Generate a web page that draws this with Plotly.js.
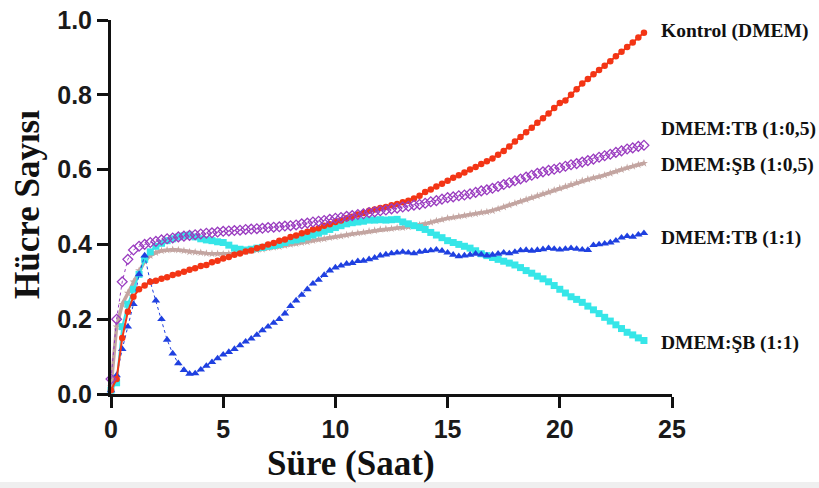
<!DOCTYPE html>
<html>
<head>
<meta charset="utf-8">
<script src="https://cdn.plot.ly/plotly-3.0.1.min.js"></script>
<style>
  html, body { margin: 0; padding: 0; background: #ffffff; }
  #chart { width: 819px; height: 488px; }
</style>
</head>
<body>
<div id="chart"></div>
<script>
// Time (hours)
const time = [
  0, 0.25, 0.5, 0.75, 1, 1.25, 1.5, 1.75, 2, 2.25, 2.5, 2.75,
  3, 3.25, 3.5, 3.75, 4, 4.25, 4.5, 4.75, 5, 5.25, 5.5, 5.75,
  6, 6.25, 6.5, 6.75, 7, 7.25, 7.5, 7.75, 8, 8.25, 8.5, 8.75,
  9, 9.25, 9.5, 9.75, 10, 10.25, 10.5, 10.75, 11, 11.25, 11.5, 11.75,
  12, 12.25, 12.5, 12.75, 13, 13.25, 13.5, 13.75, 14, 14.25, 14.5, 14.75,
  15, 15.25, 15.5, 15.75, 16, 16.25, 16.5, 16.75, 17, 17.25, 17.5, 17.75,
  18, 18.25, 18.5, 18.75, 19, 19.25, 19.5, 19.75, 20, 20.25, 20.5, 20.75,
  21, 21.25, 21.5, 21.75, 22, 22.25, 22.5, 22.75, 23, 23.25, 23.5, 23.75
];

// Kontrol (DMEM)
const kontrol = [
  0.01, 0.04, 0.15, 0.22, 0.26, 0.28, 0.29, 0.30, 0.303, 0.308, 0.312, 0.318,
  0.322, 0.327, 0.332, 0.336, 0.342, 0.345, 0.352, 0.356, 0.362, 0.366, 0.372, 0.376,
  0.381, 0.384, 0.39, 0.394, 0.40, 0.404, 0.41, 0.413, 0.42, 0.424, 0.43, 0.434,
  0.44, 0.443, 0.45, 0.454, 0.46, 0.464, 0.47, 0.474, 0.48, 0.484, 0.49, 0.493,
  0.497, 0.50, 0.505, 0.508, 0.513, 0.517, 0.523, 0.53, 0.54, 0.547, 0.555, 0.562,
  0.57, 0.578, 0.585, 0.592, 0.60, 0.607, 0.615, 0.622, 0.63, 0.64, 0.65, 0.662,
  0.675, 0.687, 0.70, 0.712, 0.725, 0.737, 0.75, 0.765, 0.778, 0.785, 0.80, 0.815,
  0.83, 0.842, 0.855, 0.866, 0.878, 0.89, 0.903, 0.915, 0.928, 0.94, 0.953, 0.966
];

// DMEM:TB (1:0,5)
const tb05 = [
  0.04, 0.20, 0.30, 0.36, 0.385, 0.395, 0.40, 0.405, 0.408, 0.412, 0.415, 0.417,
  0.42, 0.422, 0.424, 0.426, 0.428, 0.43, 0.431, 0.433, 0.435, 0.436, 0.437, 0.438,
  0.44, 0.441, 0.442, 0.443, 0.445, 0.446, 0.447, 0.449, 0.45, 0.452, 0.455, 0.457,
  0.46, 0.462, 0.464, 0.467, 0.47, 0.472, 0.475, 0.477, 0.48, 0.482, 0.485, 0.487,
  0.49, 0.492, 0.495, 0.497, 0.50, 0.502, 0.505, 0.507, 0.51, 0.514, 0.517, 0.521,
  0.525, 0.527, 0.53, 0.532, 0.535, 0.539, 0.543, 0.546, 0.55, 0.555, 0.56, 0.565,
  0.57, 0.575, 0.58, 0.585, 0.59, 0.594, 0.598, 0.601, 0.605, 0.609, 0.613, 0.616,
  0.62, 0.624, 0.628, 0.633, 0.637, 0.641, 0.646, 0.65, 0.655, 0.658, 0.662, 0.665
];

// DMEM:ŞB (1:0,5)
const sb05 = [
  0.02, 0.18, 0.24, 0.27, 0.30, 0.33, 0.355, 0.37, 0.378, 0.383, 0.385, 0.386,
  0.385, 0.383, 0.38, 0.379, 0.378, 0.376, 0.375, 0.375, 0.374, 0.375, 0.376, 0.378,
  0.38, 0.383, 0.385, 0.387, 0.39, 0.392, 0.394, 0.397, 0.40, 0.402, 0.405, 0.407,
  0.41, 0.413, 0.415, 0.418, 0.42, 0.422, 0.425, 0.428, 0.43, 0.432, 0.435, 0.437,
  0.44, 0.441, 0.442, 0.444, 0.445, 0.447, 0.45, 0.452, 0.455, 0.459, 0.463, 0.466,
  0.47, 0.472, 0.475, 0.477, 0.48, 0.482, 0.485, 0.487, 0.49, 0.495, 0.50, 0.505,
  0.51, 0.515, 0.52, 0.525, 0.53, 0.535, 0.54, 0.545, 0.55, 0.555, 0.56, 0.565,
  0.57, 0.574, 0.578, 0.581, 0.585, 0.59, 0.595, 0.60, 0.605, 0.609, 0.613, 0.617
];

// DMEM:TB (1:1)
const tb11 = [
  0.01, 0.05, 0.12, 0.18, 0.24, 0.32, 0.37, 0.30, 0.25, 0.20, 0.145, 0.108,
  0.082, 0.064, 0.054, 0.055, 0.065, 0.075, 0.085, 0.095, 0.105, 0.112, 0.12, 0.13,
  0.14, 0.148, 0.158, 0.17, 0.18, 0.19, 0.20, 0.215, 0.235, 0.25, 0.265, 0.28,
  0.295, 0.305, 0.318, 0.33, 0.338, 0.343, 0.348, 0.35, 0.355, 0.356, 0.36, 0.364,
  0.37, 0.373, 0.376, 0.378, 0.38, 0.378, 0.376, 0.38, 0.382, 0.384, 0.386, 0.383,
  0.378, 0.372, 0.368, 0.37, 0.372, 0.375, 0.373, 0.37, 0.372, 0.375, 0.378, 0.376,
  0.38, 0.384, 0.385, 0.383, 0.385, 0.387, 0.39, 0.388, 0.386, 0.388, 0.39, 0.388,
  0.386, 0.385, 0.398, 0.40, 0.402, 0.405, 0.41, 0.418, 0.422, 0.42, 0.426, 0.43
];

// DMEM:ŞB (1:1)
const sb11 = [
  0.01, 0.03, 0.18, 0.24, 0.28, 0.32, 0.36, 0.38, 0.395, 0.403, 0.41, 0.415,
  0.42, 0.423, 0.425, 0.42, 0.415, 0.412, 0.41, 0.407, 0.405, 0.398, 0.39, 0.387,
  0.385, 0.387, 0.39, 0.392, 0.395, 0.397, 0.40, 0.405, 0.41, 0.412, 0.415, 0.42,
  0.425, 0.43, 0.435, 0.44, 0.445, 0.45, 0.455, 0.458, 0.46, 0.462, 0.465, 0.465,
  0.466, 0.465, 0.466, 0.467, 0.46, 0.455, 0.45, 0.445, 0.44, 0.432, 0.425, 0.418,
  0.41, 0.405, 0.40, 0.395, 0.39, 0.383, 0.375, 0.37, 0.365, 0.36, 0.355, 0.35,
  0.345, 0.338, 0.33, 0.323, 0.315, 0.308, 0.30, 0.29, 0.28, 0.27, 0.26, 0.253,
  0.245, 0.235, 0.225, 0.215, 0.205, 0.195, 0.185, 0.175, 0.165, 0.158, 0.15, 0.143
];

const seriesNames = ["Kontrol (DMEM)", "DMEM:TB (1:0,5)", "DMEM:ŞB (1:0,5)", "DMEM:TB (1:1)", "DMEM:ŞB (1:1)"];
const xTicks = [0, 5, 10, 15, 20, 25];
const yTicks = [0.0, 0.2, 0.4, 0.6, 0.8, 1.0];

const traces = [
  {
    x: time, y: sb05, name: seriesNames[2], type: 'scatter', mode: 'lines+markers',
    line: { color: '#c3a5a1', width: 3.5 },
    marker: { symbol: 'star', size: 6, color: '#c3a5a1' },
    cliponaxis: false
  },
  {
    x: time, y: sb11, name: seriesNames[4], type: 'scatter', mode: 'lines+markers',
    line: { color: '#36e6e8', width: 2 },
    marker: { symbol: 'square', size: 7, color: '#36e6e8' },
    cliponaxis: false
  },
  {
    x: time, y: tb11, name: seriesNames[3], type: 'scatter', mode: 'lines+markers',
    line: { color: '#1f40e0', width: 1, dash: 'dot' },
    marker: { symbol: 'triangle-up', size: 7.5, color: '#1f40e0' },
    cliponaxis: false
  },
  {
    x: time, y: kontrol, name: seriesNames[0], type: 'scatter', mode: 'lines+markers',
    line: { color: '#f33515', width: 2 },
    marker: { symbol: 'circle', size: 6.5, color: '#f33515' },
    cliponaxis: false
  },
  {
    x: time, y: tb05, name: seriesNames[1], type: 'scatter', mode: 'lines+markers',
    line: { color: '#9a3cc0', width: 1, dash: 'dot' },
    marker: { symbol: 'diamond-open', size: 7.5, color: '#9a3cc0', line: { width: 1.3 } },
    cliponaxis: false
  }
];

const plotL = 111, plotR = 672, plotT = 20, plotB = 394;
function py(pix) { return (plotB - pix) / (plotB - plotT); }
function px(pix) { return (pix - plotL) / (plotR - plotL); }

const labelFont = { family: 'Liberation Serif, Times New Roman, serif', size: 19.5, color: '#111111', weight: 'bold' };
const labelY = [31, 129, 165, 238, 343];

const annotations = seriesNames.map((n, i) => ({
  text: n, xref: 'paper', yref: 'paper', x: px(659), y: py(labelY[i]),
  xanchor: 'left', yanchor: 'middle', showarrow: false, font: labelFont
}));

annotations.push({
  text: 'Süre (Saat)', xref: 'paper', yref: 'paper', x: px(351), y: py(463),
  xanchor: 'center', yanchor: 'middle', showarrow: false,
  font: { family: 'Liberation Serif, Times New Roman, serif', size: 35, color: '#111111', weight: 'bold' }
});
annotations.push({
  text: 'Hücre Sayısı', xref: 'paper', yref: 'paper', x: px(27), y: py(205),
  xanchor: 'center', yanchor: 'middle', showarrow: false, textangle: -90,
  font: { family: 'Liberation Serif, Times New Roman, serif', size: 35, color: '#111111', weight: 'bold' }
});

const tickFont = { family: 'Liberation Sans, Arial, sans-serif', size: 25, color: '#1a1a1a', weight: 'bold' };

const layout = {
  width: 819, height: 488,
  margin: { l: plotL, r: 819 - plotR, t: plotT, b: 488 - plotB, pad: 0 },
  paper_bgcolor: '#ffffff', plot_bgcolor: '#ffffff',
  showlegend: false,
  xaxis: {
    range: [0, 25], tickvals: xTicks, ticktext: xTicks.map(String),
    showgrid: false, zeroline: false, showline: true, linecolor: '#111111', linewidth: 3,
    ticks: 'outside', ticklen: 11, tickwidth: 3, tickcolor: '#111111',
    tickfont: tickFont, fixedrange: true
  },
  yaxis: {
    range: [0, 1], tickvals: yTicks, ticktext: yTicks.map(v => v.toFixed(1)),
    showgrid: false, zeroline: false, showline: true, linecolor: '#111111', linewidth: 3,
    ticks: 'outside', ticklen: 11, tickwidth: 3, tickcolor: '#111111',
    tickfont: tickFont, fixedrange: true
  },
  annotations: annotations,
  shapes: [{
    type: 'rect', xref: 'paper', yref: 'paper', x0: px(0), x1: px(819), y0: py(488), y1: py(482),
    fillcolor: '#efefef', line: { width: 0 }, layer: 'below'
  }]
};

Plotly.newPlot('chart', traces, layout, { displayModeBar: false, staticPlot: true });
</script>
</body>
</html>
